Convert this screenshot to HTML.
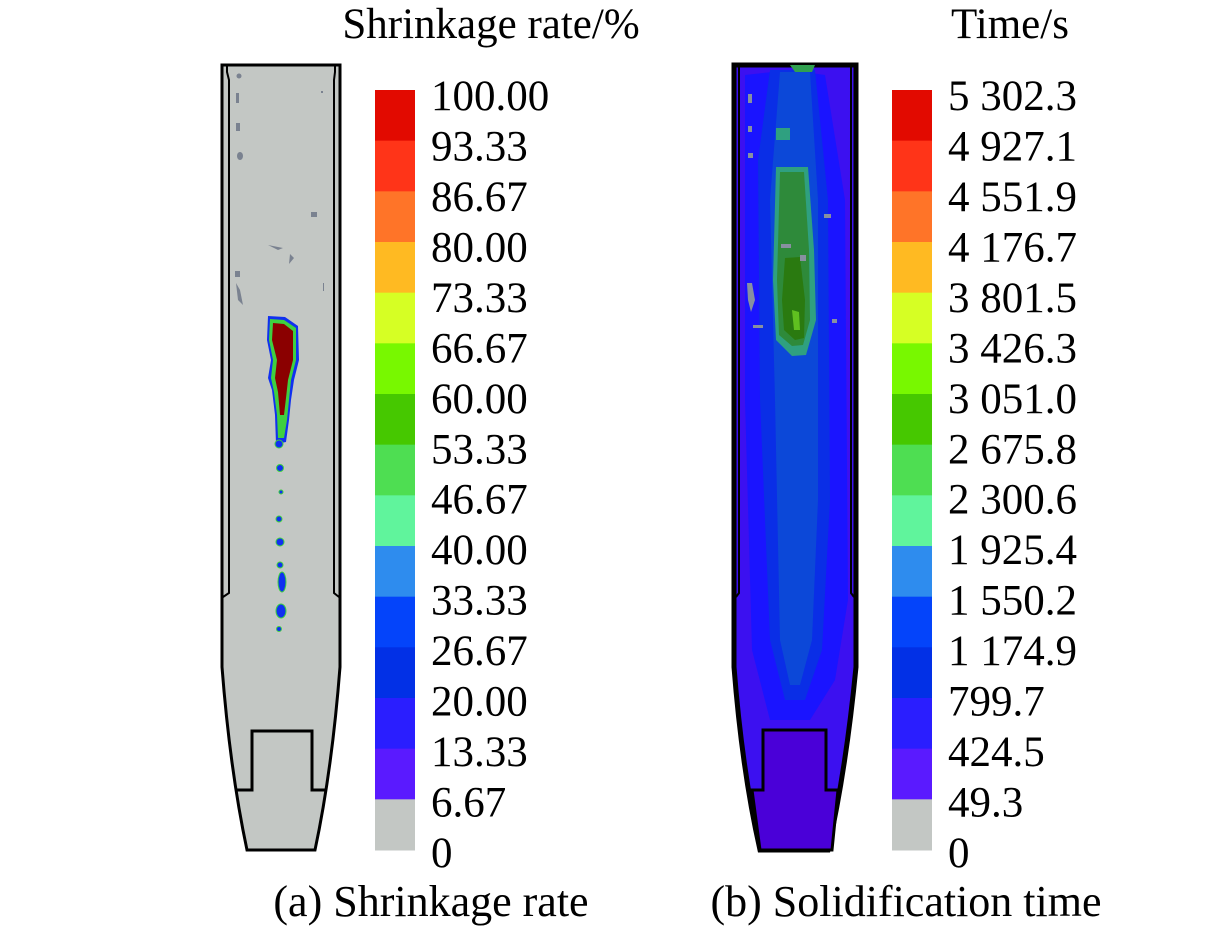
<!DOCTYPE html>
<html><head><meta charset="utf-8">
<style>
html,body{margin:0;padding:0;background:#fff;}
body{width:1228px;height:929px;overflow:hidden;position:relative;font-family:"Liberation Serif","Times New Roman",serif;}
svg{position:absolute;left:0;top:0;}
</style></head>
<body>
<svg id="fig" width="1228" height="929" viewBox="0 0 1228 929">
  <!-- Left casting: shrinkage -->
  <g>
    <path d="M222,65 L222,667 Q230,770 247,850 L315,850 Q332,770 340,667 L340,65 Z" fill="#c3c7c4" stroke="#000" stroke-width="3"/>
    <path d="M227,65 L227,72 L229,80 L229,593 L223,597" fill="none" stroke="#000" stroke-width="2"/>
    <path d="M335,65 L335,72 L334,80 L334,593 L339,597" fill="none" stroke="#000" stroke-width="2"/>
    <path d="M237,790 L252,790 L252,731 L312,731 L312,790 L325,790" fill="none" stroke="#000" stroke-width="3"/>
    <g fill="#7a8290">
      <circle cx="239" cy="76" r="2.5"/><rect x="236" y="93" width="3" height="10"/><rect x="236" y="123" width="4" height="8"/>
      <ellipse cx="240" cy="156" rx="3" ry="4"/><rect x="311" y="212" width="6" height="5"/>
      <path d="M268,245 L283,248 L278,250 Z"/><path d="M290,254 L294,258 L289,264 Z"/>
      <rect x="235" y="271" width="5" height="6"/><path d="M236,283 L240,290 L243,305 L238,300 Z"/>
      <rect x="323" y="283" width="1" height="8"/><rect x="321" y="91" width="2" height="2"/>
    </g>
    <g>
      <path d="M268,316 L285,317 L298,326 L299,360 L294,380 L291,400 L289,420 L286,442 L276,444 L275,415 L272,390 L268,378 L271,360 L267,340 Z" fill="#1030f0"/>
      <path d="M270,319 L284,320 L296,328 L296,360 L291,380 L289,400 L287,420 L284,438 L278,438 L277,415 L274,392 L271,378 L273,360 L269,340 Z" fill="#3fd040"/>
      <path d="M273,323 L284,324 L293,331 L293,360 L288,380 L286,398 L284,415 L280,415 L278,392 L275,378 L277,360 L272,340 Z" fill="#8b0000"/>
      <g fill="#1030f0" stroke="#3fd040" stroke-width="1">
        <circle cx="279" cy="444" r="4"/><circle cx="280" cy="468" r="3.5"/><circle cx="281" cy="492" r="2"/>
        <circle cx="279" cy="519" r="3"/><circle cx="280" cy="542" r="4"/><circle cx="280" cy="565" r="3"/>
        <ellipse cx="282" cy="582" rx="4" ry="10"/><ellipse cx="281" cy="611" rx="5" ry="7"/><circle cx="279" cy="629" r="2.5"/>
      </g>
    </g>
  </g>

  <!-- Right casting: solidification time -->
  <g>
    <path d="M734,65 L734,667 Q742,770 760,850 L828,850 Q846,770 856,667 L856,65 Z" fill="#3c10f0" stroke="#000" stroke-width="5"/>
    <path d="M745,75 L790,70 L825,75 L845,200 L848,600 L835,680 L810,720 L770,720 L752,650 L745,400 Z" fill="#1a14ff"/>
    <path d="M770,70 L815,70 L828,200 L830,500 L822,650 L805,700 L785,700 L770,640 L760,400 L758,160 Z" fill="#0a2ee6"/>
    <path d="M780,72 L810,72 L818,200 L818,500 L812,640 L800,685 L790,685 L780,640 L775,400 L770,200 Z" fill="#0c48d8"/>
    <path d="M776,167 L808,167 L814,250 L816,320 L806,355 L792,356 L776,340 L773,280 Z" fill="#2fa080"/>
    <path d="M780,172 L804,172 L809,250 L810,320 L803,345 L792,346 L779,335 L777,280 Z" fill="#2e8a3a"/>
    <path d="M785,258 L800,257 L805,300 L804,338 L795,340 L784,330 L782,300 Z" fill="#2a7a10"/>
    <path d="M792,310 L799,312 L800,330 L794,330 Z" fill="#60c020"/>
    <path d="M790,65 L815,65 L812,72 L795,72 Z" fill="#30a050"/>
    <rect x="776" y="128" width="14" height="12" fill="#2fa080"/>
    <path d="M739,65 L739,593 L736,597" fill="none" stroke="#000" stroke-width="2"/>
    <path d="M851,65 L851,593 L854,597" fill="none" stroke="#000" stroke-width="2"/>
    <path d="M752,790 L763,790 L763,730 L826,730 L826,790 L838,790 L832,850 L760,850 Z" fill="#4a00d8" stroke="#000" stroke-width="3"/>
    <g fill="#8890a0">
      <rect x="748" y="94" width="4" height="9"/><rect x="748" y="126" width="4" height="6"/><rect x="748" y="153" width="5" height="5"/>
      <rect x="824" y="214" width="7" height="4"/><rect x="781" y="244" width="10" height="4"/><rect x="800" y="255" width="6" height="6"/>
      <path d="M747,283 L752,283 L755,300 L751,312 L748,300 Z"/><rect x="753" y="325" width="10" height="3"/><rect x="832" y="319" width="5" height="4"/>
    </g>
  </g>

  <g id="legends"></g>

  <text x="491" y="38" font-size="43" text-anchor="middle" font-family="Liberation Serif, serif">Shrinkage rate/%</text>
  <text x="1010" y="38" font-size="43" text-anchor="middle" font-family="Liberation Serif, serif">Time/s</text>
  <text x="431" y="916" font-size="44" text-anchor="middle" font-family="Liberation Serif, serif">(a) Shrinkage rate</text>
  <text x="906" y="916" font-size="44" text-anchor="middle" font-family="Liberation Serif, serif">(b) Solidification time</text>
</svg>
<script>
const bandColors = ["#e20a00","#ff3418","#ff7428","#ffba22","#d6ff24","#78f800","#46c800","#4ede52","#60f49c","#2e8cee","#0444fa","#0230e6","#2a1eff","#5a1aff","#c3c7c4"];
const shrinkLabels = ["100.00","93.33","86.67","80.00","73.33","66.67","60.00","53.33","46.67","40.00","33.33","26.67","20.00","13.33","6.67","0"];
const timeLabels = ["5 302.3","4 927.1","4 551.9","4 176.7","3 801.5","3 426.3","3 051.0","2 675.8","2 300.6","1 925.4","1 550.2","1 174.9","799.7","424.5","49.3","0"];
const NS="http://www.w3.org/2000/svg";
const g=document.getElementById('legends');
function legend(x0,labels){
  const top=90,bottom=850,h=(bottom-top)/bandColors.length;
  bandColors.forEach((c,i)=>{
    const r=document.createElementNS(NS,'rect');
    r.setAttribute('x',x0);r.setAttribute('y',top+i*h);r.setAttribute('width',40);r.setAttribute('height',h+0.5);r.setAttribute('fill',c);
    
    
    g.appendChild(r);
  });
  const step=(852-95)/(labels.length-1);
  labels.forEach((t,i)=>{
    const tx=document.createElementNS(NS,'text');
    tx.setAttribute('x',x0+56);tx.setAttribute('y',95+i*step+15);
    tx.setAttribute('font-size','43');tx.setAttribute('font-family','Liberation Serif, serif');
    tx.textContent=t;
    
    
    g.appendChild(tx);
  });
}
legend(375,shrinkLabels);
legend(892,timeLabels);
</script>
</body></html>
